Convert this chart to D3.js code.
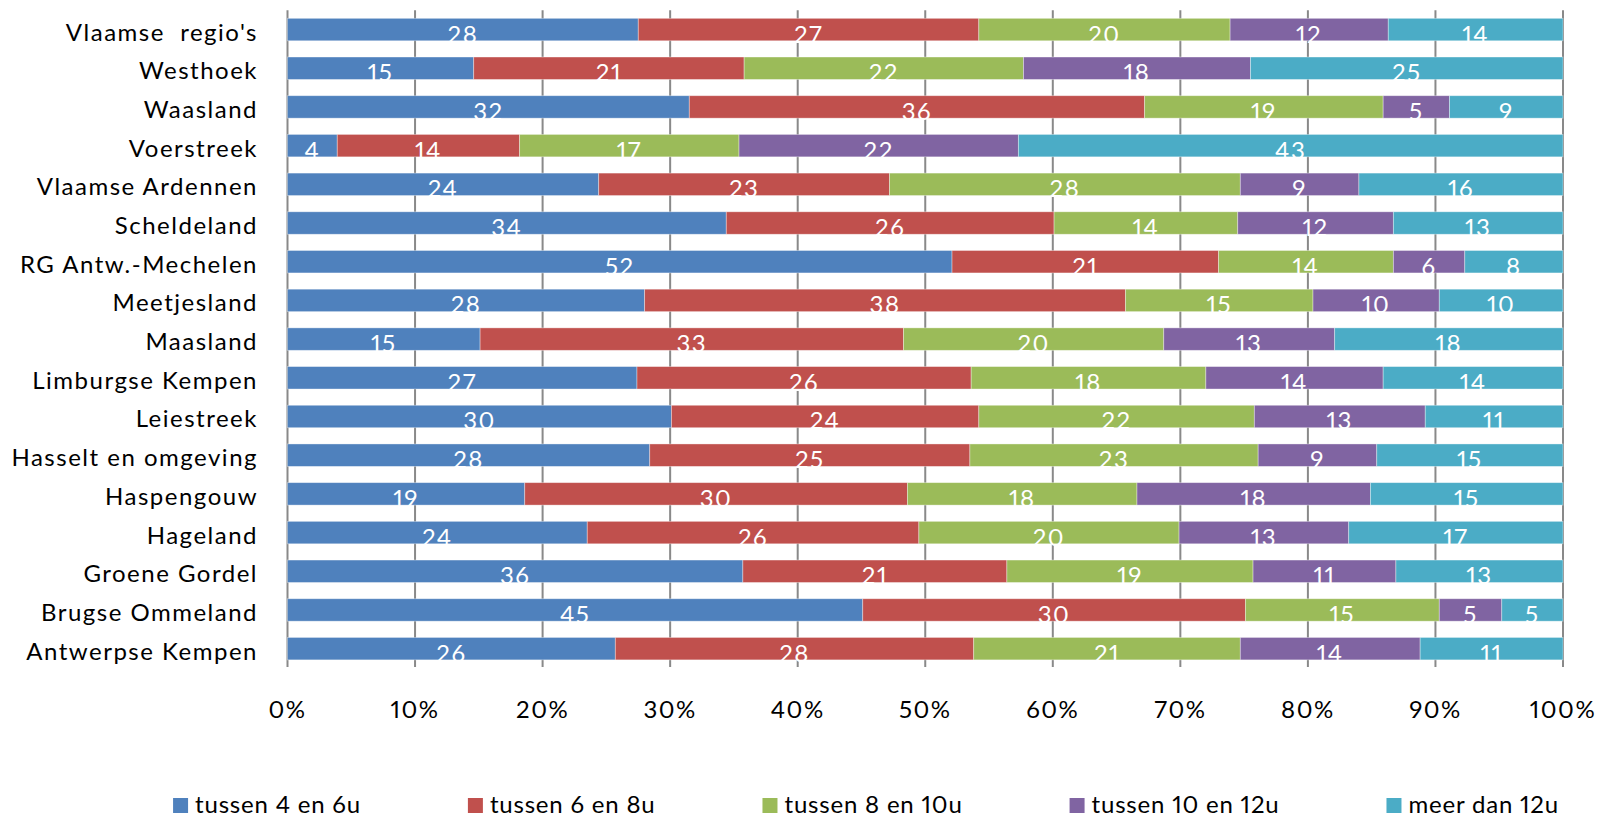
<!DOCTYPE html>
<html>
<head>
<meta charset="utf-8">
<script src="https://cdn.jsdelivr.net/npm/d3@7"></script>
<style>
  html, body { margin: 0; padding: 0; background: #ffffff; }
  svg { display: block; }
  text { font-family: "Lato", "Open Sans", sans-serif; font-variant-numeric: proportional-nums; font-feature-settings: "pnum" 1; }
</style>
</head>
<body>
<svg id="chart" width="1604" height="819"></svg>
<script>
// ---- DATA ----
const categories = [
  "Vlaamse  regio's", "Westhoek", "Waasland", "Voerstreek", "Vlaamse Ardennen",
  "Scheldeland", "RG Antw.-Mechelen", "Meetjesland", "Maasland", "Limburgse Kempen",
  "Leiestreek", "Hasselt en omgeving", "Haspengouw", "Hageland", "Groene Gordel",
  "Brugse Ommeland", "Antwerpse Kempen"
];
const seriesNames = ["tussen 4 en 6u", "tussen 6 en 8u", "tussen 8 en 10u", "tussen 10 en 12u", "meer dan 12u"];
const tussen4en6   = [27.5, 14.6, 31.5,  3.9, 24.4, 34.4, 52.1, 28.0, 15.1, 27.4, 30.1, 28.4, 18.6, 23.5, 35.7, 45.1, 25.7];
const tussen6en8   = [26.7, 21.2, 35.7, 14.3, 22.8, 25.7, 20.9, 37.7, 33.2, 26.2, 24.1, 25.1, 30.0, 26.0, 20.7, 30.0, 28.1];
const tussen8en10  = [19.7, 21.9, 18.7, 17.2, 27.5, 14.4, 13.7, 14.7, 20.4, 18.4, 21.6, 22.6, 18.0, 20.4, 19.3, 15.2, 20.9];
const tussen10en12 = [12.4, 17.8,  5.2, 21.9,  9.3, 12.2,  5.6,  9.9, 13.4, 13.9, 13.4,  9.3, 18.3, 13.3, 11.2,  4.9, 14.1];
const meerDan12    = [13.7, 24.5,  8.9, 42.7, 16.0, 13.3,  7.7,  9.7, 17.9, 14.1, 10.8, 14.6, 15.1, 16.8, 13.1,  4.8, 11.2];
const tickValues = [0, 0.1, 0.2, 0.3, 0.4, 0.5, 0.6, 0.7, 0.8, 0.9, 1.0];
const colors = ["#4F81BD", "#C0504D", "#9BBB59", "#8064A2", "#4BACC6"];

// ---- build table ----
const seriesValues = [tussen4en6, tussen6en8, tussen8en10, tussen10en12, meerDan12];
const keys = seriesNames;
const table = categories.map((c, i) => {
  const row = { cat: c };
  keys.forEach((k, j) => row[k] = seriesValues[j][i]);
  return row;
});
const stacked = d3.stack().keys(keys).offset(d3.stackOffsetExpand)(table);

// ---- layout ----
const svg = d3.select("#chart");
const x0 = 287.5, x1 = 1563, yTop = 10.2, yBot = 668;
const FONT = 24, LS = 1.5, LEG_LS = 0.8;

const x = d3.scaleLinear().domain([0, 1]).range([x0, x1]);
const y = d3.scaleBand().domain(categories).range([yTop, yBot]).paddingInner(0.42).paddingOuter(0.21);
const color = d3.scaleOrdinal().domain(keys).range(colors);

// gridlines (behind bars)
svg.append("g").selectAll("line").data(tickValues).join("line")
  .attr("x1", d => x(d)).attr("x2", d => x(d))
  .attr("y1", yTop).attr("y2", 667)
  .attr("stroke", "#898989").attr("stroke-width", 2);

// bars
const layers = svg.append("g").selectAll("g").data(stacked).join("g")
  .attr("fill", d => color(d.key));
layers.selectAll("rect").data(d => d.map(p => ({ p, key: d.key }))).join("rect")
  .attr("x", d => x(d.p[0]))
  .attr("y", d => y(d.p.data.cat))
  .attr("width", d => x(d.p[1]) - x(d.p[0]))
  .attr("height", y.bandwidth())
  .attr("stroke", "#ffffff").attr("stroke-opacity", 0.45).attr("stroke-width", 0.8);

// data labels
const labels = svg.append("g");
stacked.forEach(layer => {
  layer.forEach(p => {
    labels.append("text")
      .attr("x", (x(p[0]) + x(p[1])) / 2)
      .attr("y", y(p.data.cat) + y.bandwidth() / 2 + 13)
      .attr("text-anchor", "middle")
      .attr("fill", "#ffffff")
      .attr("font-size", FONT)
      .attr("letter-spacing", LS)
      .text(Math.round(p.data[layer.key]));
  });
});

// category axis labels
svg.append("g").selectAll("text").data(categories).join("text")
  .attr("x", 258)
  .attr("y", d => y(d) + y.bandwidth() / 2 + 11)
  .attr("text-anchor", "end")
  .attr("fill", "#000000")
  .attr("font-size", FONT)
  .attr("letter-spacing", LS)
  .attr("xml:space", "preserve")
  .text(d => d);

// x axis tick labels
const fmt = d3.format(".0%");
svg.append("g").selectAll("text").data(tickValues).join("text")
  .attr("x", d => x(d))
  .attr("y", 718)
  .attr("text-anchor", "middle")
  .attr("fill", "#000000")
  .attr("font-size", FONT)
  .attr("letter-spacing", LS)
  .text(d => fmt(d));

// legend
const legend = svg.append("g");
let cx = 0;
keys.forEach((k, i) => {
  const g = legend.append("g").attr("transform", `translate(${cx},0)`);
  g.append("rect").attr("x", 0).attr("y", 798).attr("width", 15).attr("height", 15).attr("fill", color(k));
  const t = g.append("text").attr("x", 22).attr("y", 813)
    .attr("font-size", FONT).attr("letter-spacing", LEG_LS).attr("fill", "#000").text(k);
  const w = t.node().getComputedTextLength();
  cx += 22 + w + 107;
});
const total = cx - 107;
legend.attr("transform", `translate(${866 - total / 2},0)`);
</script>
</body>
</html>
